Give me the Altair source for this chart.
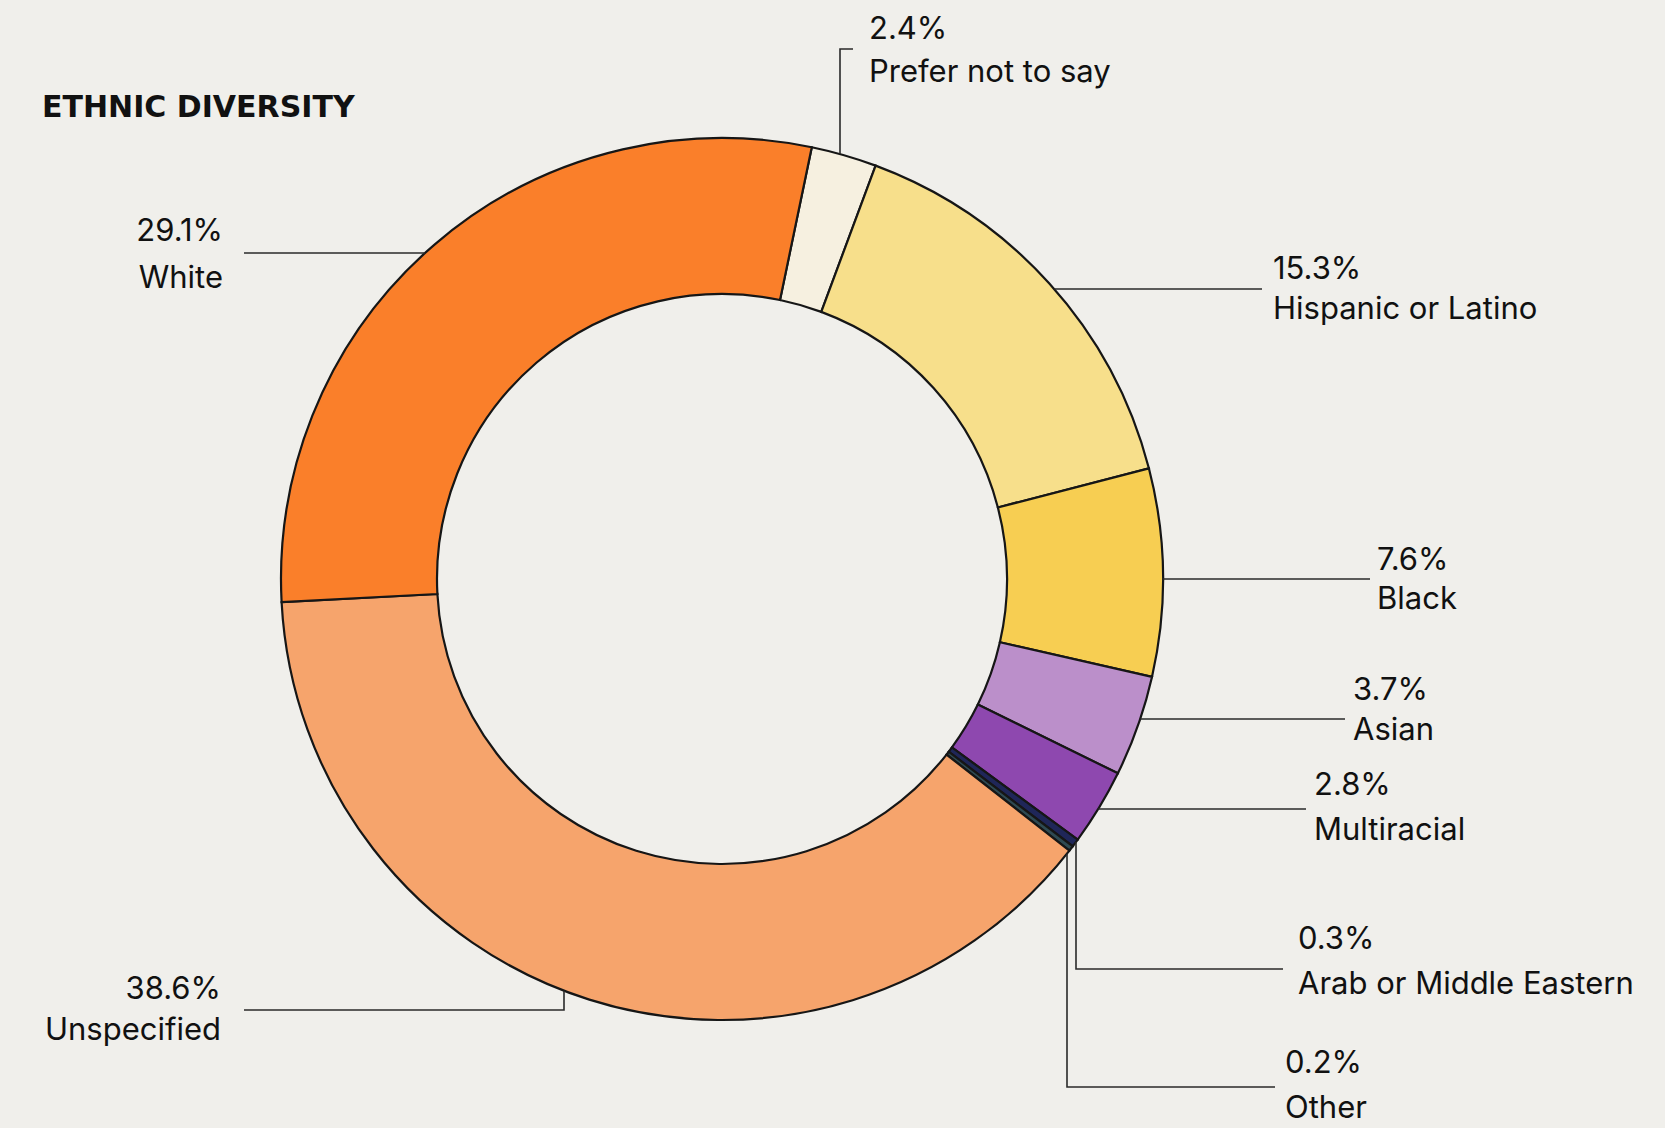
import math
import altair as alt
import pandas as pd

# ---------------- data ----------------
categories = ["Prefer not to say", "Hispanic or Latino", "Black", "Asian", "Multiracial",
              "Arab or Middle Eastern", "Other", "Unspecified", "White"]
values = [2.4, 15.3, 7.6, 3.7, 2.8, 0.3, 0.2, 38.6, 29.1]
colors = ["#F6F0E0", "#F7DF8B", "#F7CE52", "#BB8FCA", "#8E48AF",
          "#1F2658", "#2E4A52", "#F6A46C", "#FA7F2A"]
title_text = "ETHNIC DIVERSITY"

# ---------------- layout ----------------
W, H = 1665, 1128
CX, CY = 722, 579
R_OUT, R_IN = 441, 285
START = 0.205  # radians, clockwise from 12 o'clock
FONT = "Inter"
FS = 31
BG = "#F0EFEB"
TDY = 2  # small vertical nudge for labels

layout = {
    "Prefer not to say": dict(kind="v", lx=840, side=-1, ey=49, ex=853, tx=869, align="left", y1=28, y2=71),
    "Hispanic or Latino": dict(kind="h", ly=289, side=1, ex=1262, tx=1273, align="left", y1=268, y2=308),
    "Black": dict(kind="h", ly=579, side=1, ex=1370, tx=1377, align="left", y1=559, y2=598),
    "Asian": dict(kind="h", ly=719, side=1, ex=1345, tx=1353, align="left", y1=689, y2=729),
    "Multiracial": dict(kind="h", ly=809, side=1, ex=1306, tx=1314, align="left", y1=784, y2=829),
    "Arab or Middle Eastern": dict(kind="v", lx=1076, side=1, ey=969, ex=1283, tx=1298, align="left", y1=938, y2=983),
    "Other": dict(kind="v", lx=1067, side=1, ey=1087, ex=1275, tx=1285, align="left", y1=1062, y2=1107),
    "Unspecified": dict(kind="v", lx=564, side=1, ey=1010, ex=244, tx=221, align="right", y1=988, y2=1029),
    "White": dict(kind="h", ly=253, side=-1, ex=244, tx=223, align="right", y1=230, y2=277),
}

# ---------------- tables ----------------
arc_df = pd.DataFrame({"cat": categories, "value": values, "idx": list(range(len(categories)))})

line_rows, text_rows = [], []
for cat, val in zip(categories, values):
    L = layout[cat]
    if L["kind"] == "h":
        ax = CX + L["side"] * math.sqrt(R_OUT**2 - (L["ly"] - CY) ** 2)
        pts = [(ax, L["ly"]), (L["ex"], L["ly"])]
    else:
        ay = CY + L["side"] * math.sqrt(R_OUT**2 - (L["lx"] - CX) ** 2)
        pts = [(L["lx"], ay), (L["lx"], L["ey"]), (L["ex"], L["ey"])]
    for i, (px, py) in enumerate(pts):
        line_rows.append({"cat": cat, "seq": i, "px": px, "py": py})
    text_rows.append({"cat": cat, "label": f"{val}%", "tx": L["tx"], "ty": L["y1"] + TDY, "align": L["align"]})
    text_rows.append({"cat": cat, "label": cat, "tx": L["tx"], "ty": L["y2"] + TDY, "align": L["align"]})

line_df = pd.DataFrame(line_rows)
text_df = pd.DataFrame(text_rows)

xs = alt.Scale(domain=[0, W], range=[0, W], nice=False, zero=False)
ys = alt.Scale(domain=[0, H], range=[0, H], nice=False, zero=False)

donut = alt.Chart(arc_df).mark_arc(
    innerRadius=R_IN, outerRadius=R_OUT, stroke="#161616", strokeWidth=2.2
).encode(
    theta=alt.Theta("value:Q", stack=True, scale=alt.Scale(range=[START, START + 2 * math.pi])),
    order=alt.Order("idx:Q", sort="ascending"),
    color=alt.Color("cat:N", scale=alt.Scale(domain=categories, range=colors), legend=None),
    x=alt.value(CX),
    y=alt.value(CY),
)

leaders = alt.Chart(line_df).mark_line(color="#2a2a2a", strokeWidth=1.6).encode(
    x=alt.X("px:Q", scale=xs, axis=None),
    y=alt.Y("py:Q", scale=ys, axis=None),
    detail="cat:N",
    order="seq:Q",
)

def text_layer(al):
    return alt.Chart(text_df).transform_filter(alt.datum.align == al).mark_text(
        align=al, baseline="middle", font=FONT, fontSize=FS, color="#111111"
    ).encode(
        x=alt.X("tx:Q", scale=xs, axis=None),
        y=alt.Y("ty:Q", scale=ys, axis=None),
        text="label:N",
    )

title = alt.Chart(pd.DataFrame({"t": [title_text]})).mark_text(
    align="left", baseline="middle", font="DejaVu Sans", fontSize=30, fontWeight="bold",
    color="#111111"
).encode(x=alt.value(42), y=alt.value(108), text="t:N")

chart = alt.layer(donut, leaders, text_layer("left"), text_layer("right"), title).properties(
    width=W, height=H, background=BG, padding=0,
    autosize=alt.AutoSizeParams(type="none"),
).configure_view(stroke=None)

chart.save("out.html", embed_options={"renderer": "svg", "actions": False})
